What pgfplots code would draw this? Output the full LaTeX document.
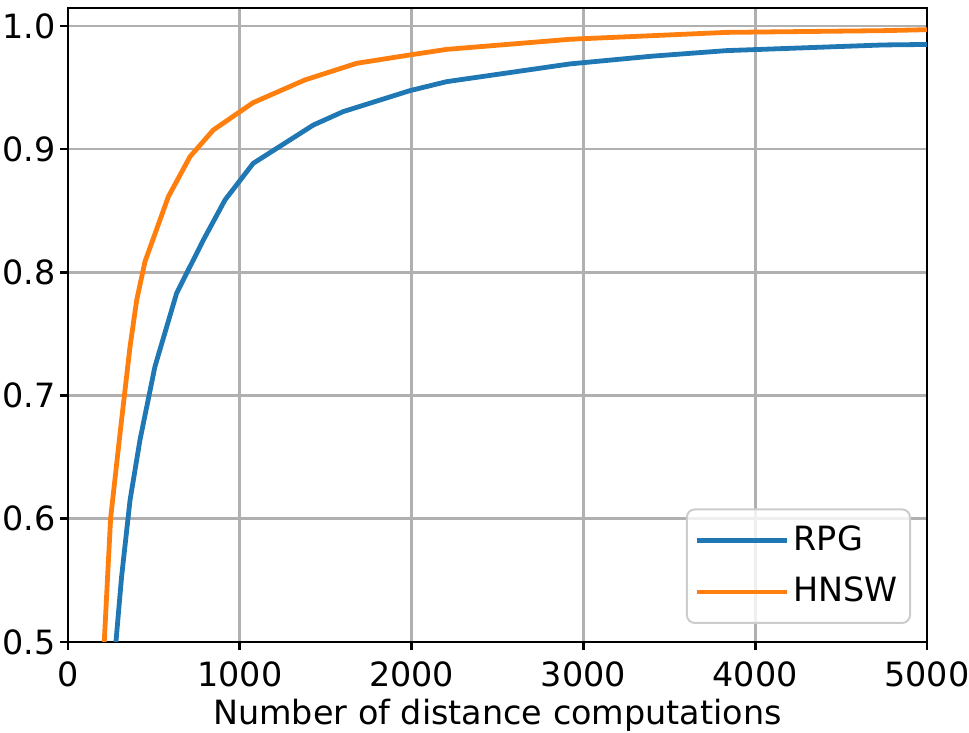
\documentclass[border=0pt]{standalone}
\usepackage{fontspec}
\setmainfont{DejaVu Sans}
\usepackage{pgfplots}
\pgfplotsset{compat=1.18}

\definecolor{mplblue}{HTML}{1F77B4}
\definecolor{mplorange}{HTML}{FF7F0E}
\definecolor{mplgrid}{HTML}{B0B0B0}
\definecolor{mpledge}{HTML}{CCCCCC}

\begin{document}
\fontsize{16.7}{20}\selectfont
\begin{tikzpicture}
\useasboundingbox (-34pt,-45.5pt) rectangle (450.5pt,321pt);
\begin{axis}[
  at={(0,0)}, anchor=south west,
  scale only axis,
  width=429.5pt, height=317pt,
  xmin=0, xmax=5000,
  ymin=0.5, ymax=1.0146,
  xtick={0,1000,...,5000},
  ytick={0.5,0.6,...,1.0},
  scaled x ticks=false,
  xticklabel style={/pgf/number format/1000 sep={}},
  yticklabel style={xshift=3.5pt, /pgf/number format/fixed, /pgf/number format/fixed zerofill, /pgf/number format/precision=1},
  /pgf/number format/assume math mode=true,
  tick align=outside,
  major tick length=4pt,
  tick style={black, line width=1.3pt},
  xtick pos=bottom, ytick pos=left,
  axis line style={black, line width=1.3pt},
  grid=major,
  major grid style={mplgrid, line width=1.3pt},
  xlabel={Number of distance computations},
  xlabel style={yshift=5pt},
  legend style={at={(1,0)}, anchor=south east, xshift=-8pt, yshift=9pt,
    draw=mpledge, line width=1pt, rounded corners=4pt, fill=white, fill opacity=0.8, text opacity=1,
    inner xsep=4pt, inner ysep=6pt, row sep=7pt},
  legend cell align=left,
  legend image code/.code={\draw[#1] (0pt,0pt) -- (35.5pt,0pt); \path (0pt,0pt) -- (45pt,0pt);},
  every axis plot/.append style={line width=2.4pt},
]
\addplot[mplblue] coordinates {
(279,0.500) (312,0.553) (361,0.615) (419,0.664) (506,0.7235) (632,0.783)
(788,0.8263) (914,0.8588) (1078,0.8885) (1428,0.9196) (1602,0.9305)
(1990,0.9475) (2204,0.9548) (2921,0.9692) (3400,0.9755) (3833,0.980)
(4745,0.9846) (5000,0.985)
};
\addplot[mplorange] coordinates {
(211,0.500) (248,0.6004) (303,0.6694) (361,0.7397) (400,0.7776) (448,0.8087)
(584,0.8614) (710,0.8939) (846,0.9156) (1078,0.9378) (1379,0.9562)
(1680,0.9697) (1990,0.9765) (2204,0.981) (2921,0.9892) (3833,0.9948)
(4745,0.9962) (5000,0.997)
};
\legend{RPG,HNSW}
\end{axis}
\end{tikzpicture}
\end{document}
